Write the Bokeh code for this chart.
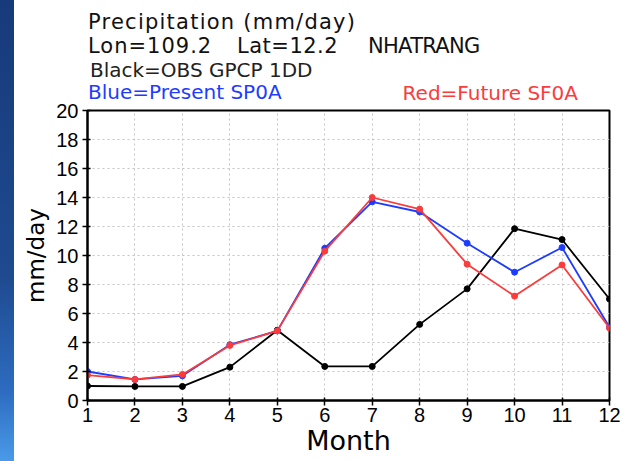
from bokeh.plotting import figure
from bokeh.models import FixedTicker, Range1d, Div
from bokeh.layouts import column
from bokeh.embed import file_html
from bokeh.resources import INLINE

months = list(range(1, 13))
obs_gpcp = [1.0, 0.97, 0.97, 2.3, 4.85, 2.35, 2.35, 5.25, 7.7, 11.85, 11.1, 7.0]
present_sp0a = [2.0, 1.45, 1.7, 3.85, 4.8, 10.5, 13.7, 13.0, 10.85, 8.85, 10.55, 5.05]
future_sf0a = [1.75, 1.45, 1.8, 3.8, 4.8, 10.3, 14.0, 13.2, 9.4, 7.2, 9.35, 5.0]
y_ticks = list(range(0, 21, 2))

title_text = "Precipitation (mm/day)"
lon_text = "Lon=109.2"
lat_text = "Lat=12.2"
station_text = "NHATRANG"
black_note = "Black=OBS GPCP 1DD"
blue_note = "Blue=Present SP0A"
red_note = "Red=Future SF0A"
x_label = "Month"
y_label = "mm/day"

BLACK = "#000000"
BLUE = "#1e3cff"
RED = "#fa3c3c"
FONT = "DejaVu Sans"
NUM_FONT = "Liberation Sans"


def span(txt, left, top, size, color, right=None, ls=0.0):
    pos = f"left:{left}px;" if right is None else f"right:{right}px;"
    return (f'<span style="position:absolute;{pos}top:{top}px;font-size:{size}px;'
            f'line-height:{size}px;letter-spacing:{ls}px;color:{color};white-space:pre;">{txt}</span>')


header_html = (
    '<div style="position:relative;width:630px;height:100px;margin:0;padding:0;'
    f"font-family:'{FONT}';\">"
    + span(title_text, 88, 11.7, 21, "#111111", ls=1.24)
    + span(lon_text, 88, 35.7, 21, "#111111", ls=1.0)
    + span(lat_text, 237, 35.7, 21, "#111111", ls=0.5)
    + span(station_text, 368, 35.7, 21, "#111111", ls=-0.7)
    + span(black_note, 90, 60, 20, "#222222")
    + span(blue_note, 88, 82, 20, BLUE)
    + span(red_note, None, 83, 20, RED, right=52)
    + "</div>"
)
header = Div(text=header_html, width=630, height=100, margin=(0, 0, 0, 0))

p = figure(width=630, height=361, output_backend="svg", toolbar_location=None,
           x_range=Range1d(1, 12), y_range=Range1d(0, 20),
           min_border_left=87, min_border_right=21, min_border_top=10, min_border_bottom=61,
           margin=(0, 0, 0, 0))

p.outline_line_color = "black"
p.outline_line_width = 2

for ax in (p.xaxis[0], p.yaxis[0]):
    ax.axis_line_width = 2
    ax.axis_line_color = "black"
    ax.major_tick_line_color = "black"
    ax.major_tick_line_width = 1.5
    ax.major_tick_in = 3
    ax.major_tick_out = 5
    ax.minor_tick_line_color = None
    ax.major_label_text_font = NUM_FONT
    ax.major_label_text_font_size = "20px"
    ax.major_label_text_color = "black"
    ax.axis_label_text_font = FONT
    ax.axis_label_text_font_style = "normal"
    ax.axis_label_text_color = "black"

p.xaxis.ticker = FixedTicker(ticks=months)
p.yaxis.ticker = FixedTicker(ticks=y_ticks)
p.xaxis.major_label_standoff = 2
p.yaxis.major_label_standoff = 4
p.xaxis.axis_label = x_label
p.xaxis.axis_label_text_font_size = "27px"
p.xaxis.axis_label_standoff = 0
p.yaxis.axis_label = y_label
p.yaxis.axis_label_text_font_size = "23px"
p.yaxis.axis_label_standoff = 4

for g in (p.xgrid[0], p.ygrid[0]):
    g.grid_line_color = "#c4c4c4"
    g.grid_line_dash = "2 3"
    g.grid_line_width = 1

series = [(obs_gpcp, BLACK), (present_sp0a, BLUE), (future_sf0a, RED)]
for vals, col in series:
    p.line(months, vals, line_color=col, line_width=1.8)
    p.scatter(months, vals, marker="circle", size=6, fill_color=col, line_color=col)

layout = column(header, p, spacing=0, margin=(0, 0, 0, 0))

html = file_html(layout, INLINE)
stripe = ('<div style="position:fixed;left:0;top:0;width:14px;height:100%;z-index:50;'
          'background:linear-gradient(to bottom,#173a7a 0%,#1f4a90 60%,#2d6cc0 85%,#4a9ae8 100%);"></div>')
idx = html.rfind("</body>")
if idx != -1:
    html = html[:idx] + stripe + html[idx:]
open("out.html", "w").write(html)
